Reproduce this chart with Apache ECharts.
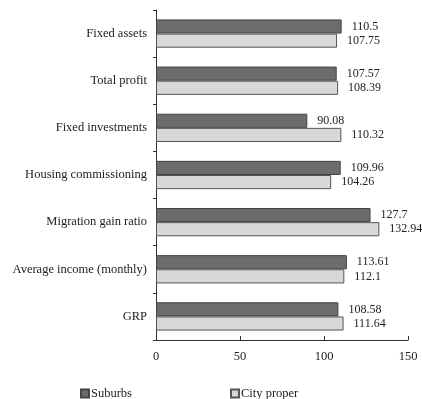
<!DOCTYPE html>
<html><head><meta charset="utf-8">
<script src="https://cdn.jsdelivr.net/npm/echarts@6/dist/echarts.min.js"></script>
<style>html,body{margin:0;padding:0;background:#fff}#c{width:422px;height:399px}</style>
</head><body><div id="c"></div>
<script>
const categories = ['Fixed assets','Total profit','Fixed investments','Housing commissioning','Migration gain ratio','Average income (monthly)','GRP'];
const suburbs = [110.5,107.57,90.08,109.96,127.7,113.61,108.58];
const cityProper = [107.75,108.39,110.32,104.26,132.94,112.1,111.64];
const xTicks = [0,50,100,150];
const font = 'Liberation Serif';
const fs = 12.5;
const chart = echarts.init(document.getElementById('c'));
chart.setOption({
  animation:false,
  textStyle:{fontFamily:font},
  grid:{left:156,right:14,top:10,bottom:59},
  legend:{
    left:75, top:382, itemGap:98, itemWidth:8, itemHeight:8, icon:'rect',
    textStyle:{fontFamily:font,fontSize:fs,color:'#222',padding:[0,0,0,-3]},
    data:['Suburbs','City proper']
  },
  xAxis:{type:'value',min:xTicks[0],max:xTicks[xTicks.length-1],interval:50,
    axisLine:{show:true,lineStyle:{color:'#333'}},
    axisTick:{show:true,inside:true,length:4,lineStyle:{color:'#333'}},
    splitLine:{show:false},
    axisLabel:{fontFamily:font,fontSize:fs,color:'#222',margin:10}
  },
  yAxis:{type:'category',data:categories,inverse:true,
    axisLine:{lineStyle:{color:'#333'}},
    axisTick:{show:true,length:3,lineStyle:{color:'#333'}},
    axisLabel:{fontFamily:font,fontSize:fs,color:'#222',margin:9}
  },
  series:[
    {name:'Suburbs',type:'bar',data:suburbs,barGap:'0%',barCategoryGap:'40%',
      itemStyle:{color:'#6c6c6c',borderColor:'#444',borderWidth:1},
      label:{show:true,position:'right',distance:10,fontFamily:font,fontSize:12,color:'#222'}},
    {name:'City proper',type:'bar',data:cityProper,
      itemStyle:{color:'#d8d8d8',borderColor:'#555',borderWidth:1},
      label:{show:true,position:'right',distance:10,fontFamily:font,fontSize:12,color:'#222'}}
  ]
});
</script></body></html>
